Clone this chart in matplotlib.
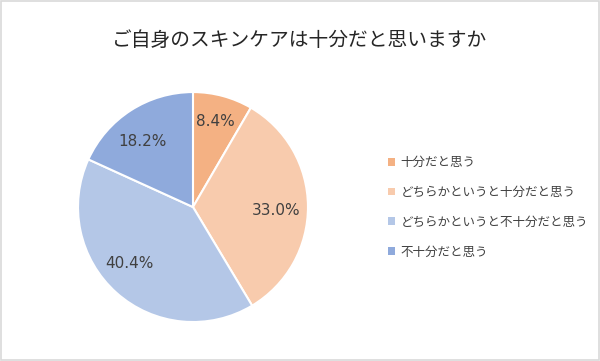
import matplotlib
matplotlib.use("Agg")
import matplotlib.pyplot as plt
from matplotlib.patches import Rectangle, Patch
import numpy as np

plt.rcParams['font.family'] = ['Noto Sans CJK JP', 'DejaVu Sans']

title = "ご自身のスキンケアは十分だと思いますか"
categories = ["十分だと思う", "どちらかというと十分だと思う", "どちらかというと不十分だと思う", "不十分だと思う"]
values = [8.4, 33.0, 40.4, 18.2]
colors = ["#F4B183", "#F8CBAD", "#B4C7E7", "#8FAADC"]
label_dist = [0.77, 0.72, 0.74, 0.72]
label_turn = [0.5, -3.0, -7.0, 5.0]

fig = plt.figure(figsize=(6.0, 3.61), dpi=100)
fig.patches.append(Rectangle((0.002, 0.003), 0.996, 0.994, transform=fig.transFigure,
                             fill=False, edgecolor="#D9D9D9", linewidth=1.2))

ax = fig.add_axes([0.130, 0.108, 0.3833, 0.637])
wedges, texts, autotexts = ax.pie(values, colors=colors, startangle=90, counterclock=False,
                                  autopct="%.1f%%", pctdistance=0.75, radius=1.0,
                                  wedgeprops=dict(edgecolor="white", linewidth=1.5),
                                  textprops=dict(color="#404040", fontsize=11))
for w, t, d, a in zip(wedges, autotexts, label_dist, label_turn):
    ang = np.deg2rad((w.theta1 + w.theta2) / 2 + a)
    t.set_position((d * np.cos(ang), d * np.sin(ang)))
    t.set_family(['DejaVu Sans'])
ax.set_xlim(-1.0, 1.0)
ax.set_ylim(-1.0, 1.0)
ax.set_aspect("equal")

fig.text(0.5, 1 - 40 / 361, title, ha="center", va="center", fontsize=14.2, color="#262626")

handles = [Patch(facecolor=c, edgecolor="none") for c in colors]
fig.legend(handles, categories, loc="upper left", bbox_to_anchor=(388 / 600, 1 - 156 / 361),
           frameon=False, fontsize=9, labelspacing=1.35, handlelength=0.6, handleheight=0.6,
           handletextpad=0.4, labelcolor="#404040", borderaxespad=0, borderpad=0)

fig.savefig("out.png", dpi=100)
